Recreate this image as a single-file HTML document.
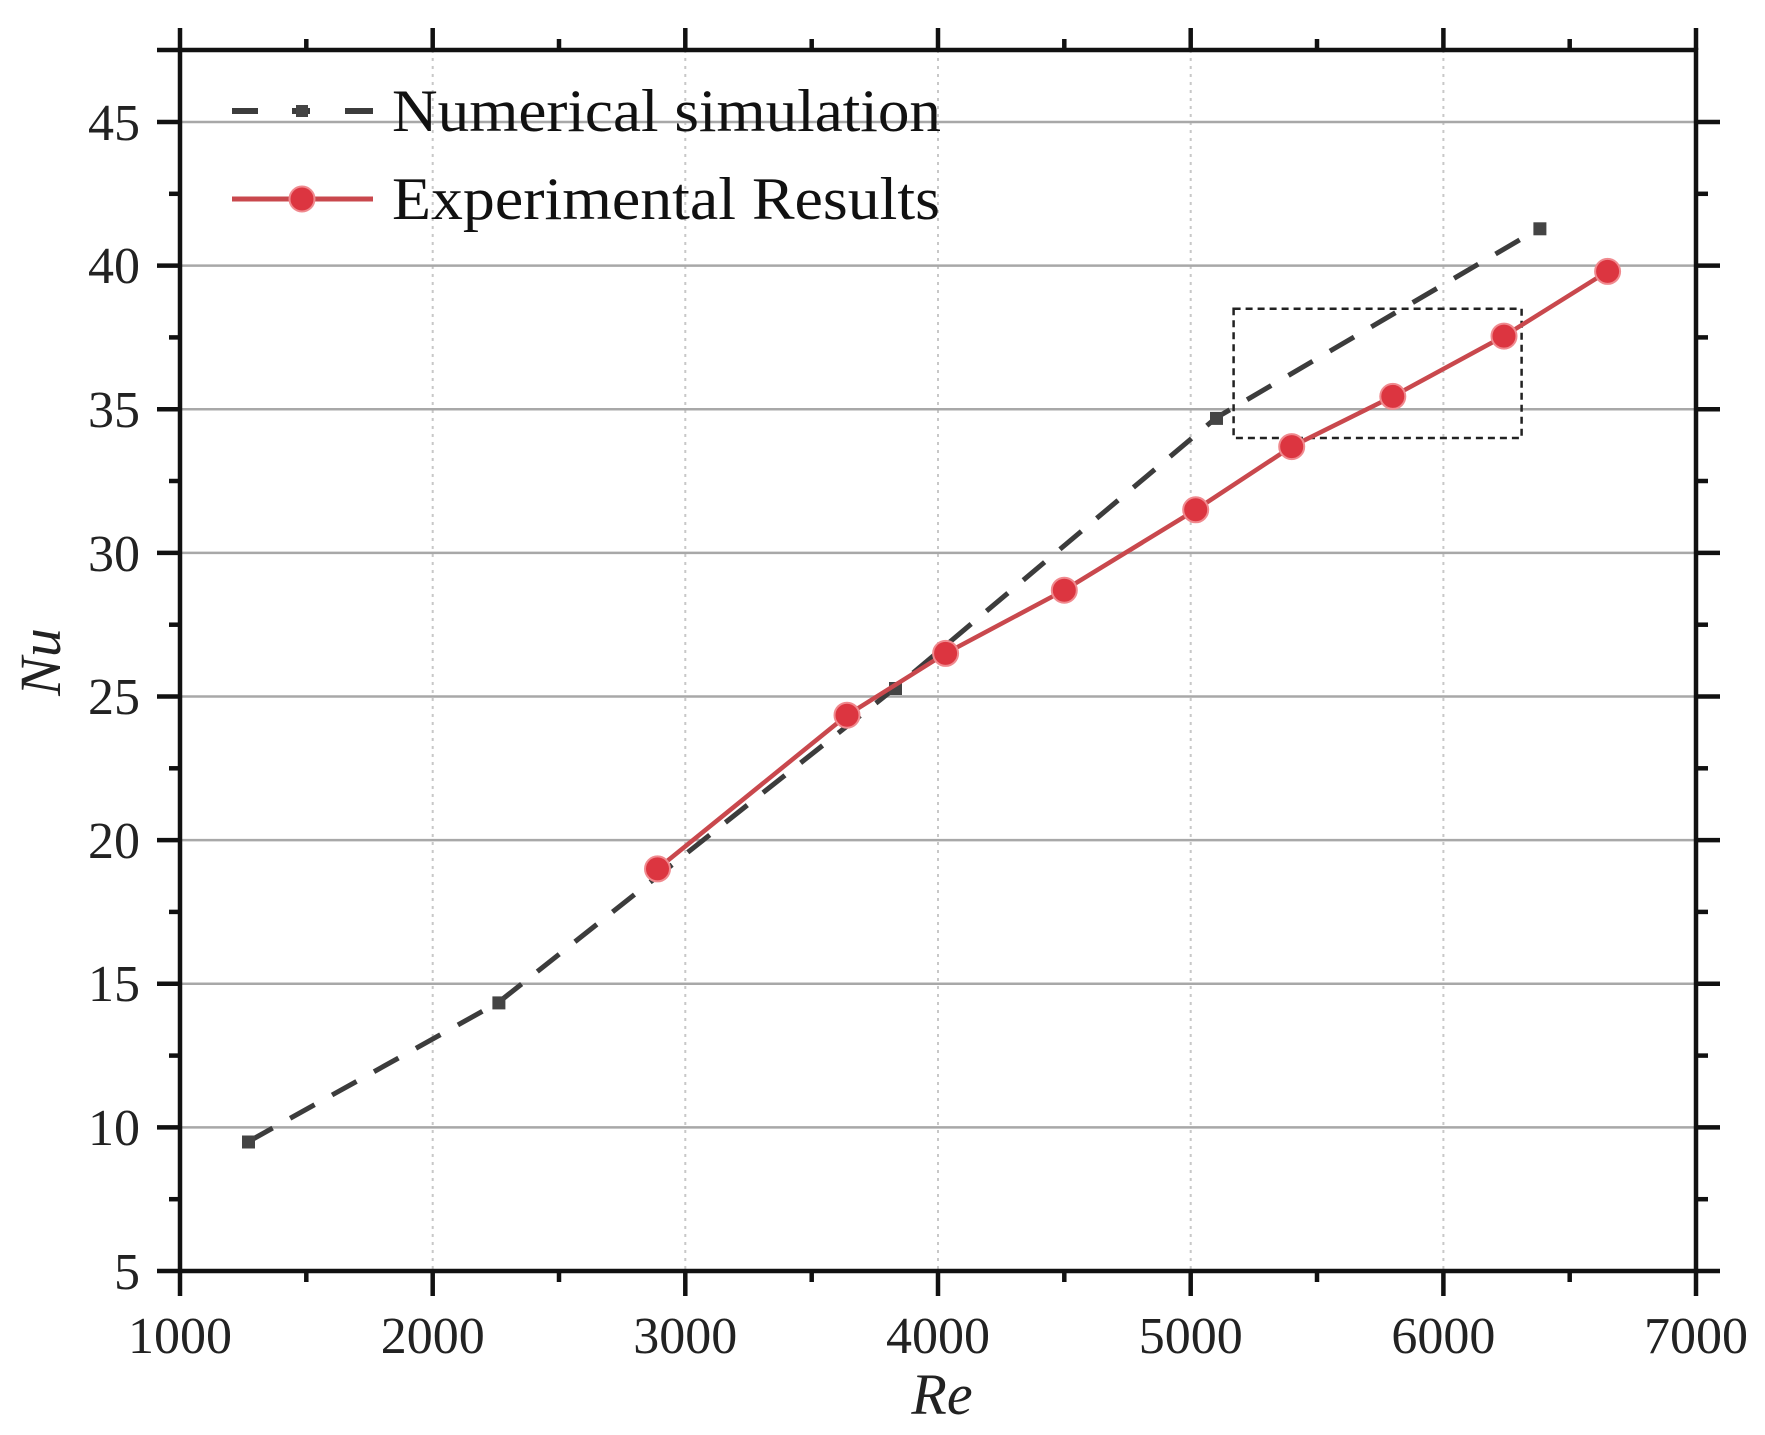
<!DOCTYPE html>
<html><head><meta charset="utf-8"><style>html,body{margin:0;padding:0;background:#fff}svg{display:block}</style></head><body>
<svg width="1765" height="1435" viewBox="0 0 1765 1435" xmlns="http://www.w3.org/2000/svg" font-family="Liberation Serif, serif">
<rect width="1765" height="1435" fill="#fff"/>
<g stroke="#c8c8c8" stroke-width="2" stroke-dasharray="3,5">
<line x1="432.7" y1="50" x2="432.7" y2="1271"/><line x1="685.3" y1="50" x2="685.3" y2="1271"/><line x1="938" y1="50" x2="938" y2="1271"/><line x1="1190.7" y1="50" x2="1190.7" y2="1271"/><line x1="1443.4" y1="50" x2="1443.4" y2="1271"/>
</g>
<g stroke="#a8a8a8" stroke-width="2.5">
<line x1="180" y1="1127.4" x2="1696" y2="1127.4"/><line x1="180" y1="983.7" x2="1696" y2="983.7"/><line x1="180" y1="840.1" x2="1696" y2="840.1"/><line x1="180" y1="696.5" x2="1696" y2="696.5"/><line x1="180" y1="552.9" x2="1696" y2="552.9"/><line x1="180" y1="409.2" x2="1696" y2="409.2"/><line x1="180" y1="265.6" x2="1696" y2="265.6"/><line x1="180" y1="122" x2="1696" y2="122"/>
</g>
<rect x="1233.6" y="308.7" width="288" height="129.3" fill="none" stroke="#222" stroke-width="2.5" stroke-dasharray="7,5"/>
<polyline points="248.2,1141.7 498.4,1002.4 895.1,688 1216,417.9 1539.4,228.3" fill="none" stroke="#3c3c3c" stroke-width="5" stroke-dasharray="28,20"/>
<g fill="#444"><rect x="242" y="1135.5" width="13" height="13"/><rect x="492.4" y="996.4" width="13" height="13"/><rect x="889" y="682" width="13" height="13"/><rect x="1210" y="411.9" width="13" height="13"/><rect x="1533.4" y="222.3" width="13" height="13"/></g>
<polyline points="657.5,868.9 847,715.2 945.6,653.4 1064.3,590.2 1195.7,509.8 1291.7,446.6 1392.8,396.4 1504,336.1 1607.6,271.4" fill="none" stroke="#c9484d" stroke-width="4.5"/>
<g fill="#dc3540" stroke="#f08a8f" stroke-width="2">
<circle cx="657.5" cy="868.9" r="12.5"/><circle cx="847" cy="715.2" r="12.5"/><circle cx="945.6" cy="653.4" r="12.5"/><circle cx="1064.3" cy="590.2" r="12.5"/><circle cx="1195.7" cy="509.8" r="12.5"/><circle cx="1291.7" cy="446.6" r="12.5"/><circle cx="1392.8" cy="396.4" r="12.5"/><circle cx="1504" cy="336.1" r="12.5"/><circle cx="1607.6" cy="271.4" r="12.5"/>
</g>
<rect x="180" y="50" width="1516" height="1221" fill="none" stroke="#111" stroke-width="4.5"/>
<g stroke="#111" stroke-width="4.5">
<line x1="180" y1="1271" x2="180" y2="1296"/><line x1="432.7" y1="1271" x2="432.7" y2="1296"/><line x1="685.3" y1="1271" x2="685.3" y2="1296"/><line x1="938" y1="1271" x2="938" y2="1296"/><line x1="1190.7" y1="1271" x2="1190.7" y2="1296"/><line x1="1443.4" y1="1271" x2="1443.4" y2="1296"/><line x1="1696" y1="1271" x2="1696" y2="1296"/>
<line x1="306.3" y1="1271" x2="306.3" y2="1282"/><line x1="559" y1="1271" x2="559" y2="1282"/><line x1="811.7" y1="1271" x2="811.7" y2="1282"/><line x1="1064.3" y1="1271" x2="1064.3" y2="1282"/><line x1="1317" y1="1271" x2="1317" y2="1282"/><line x1="1569.7" y1="1271" x2="1569.7" y2="1282"/>
<line x1="180" y1="50" x2="180" y2="28"/><line x1="432.7" y1="50" x2="432.7" y2="28"/><line x1="685.3" y1="50" x2="685.3" y2="28"/><line x1="938" y1="50" x2="938" y2="28"/><line x1="1190.7" y1="50" x2="1190.7" y2="28"/><line x1="1443.4" y1="50" x2="1443.4" y2="28"/><line x1="1696" y1="50" x2="1696" y2="28"/>
<line x1="306.3" y1="50" x2="306.3" y2="39"/><line x1="559" y1="50" x2="559" y2="39"/><line x1="811.7" y1="50" x2="811.7" y2="39"/><line x1="1064.3" y1="50" x2="1064.3" y2="39"/><line x1="1317" y1="50" x2="1317" y2="39"/><line x1="1569.7" y1="50" x2="1569.7" y2="39"/>
<line x1="157" y1="1271" x2="180" y2="1271"/><line x1="157" y1="1127.4" x2="180" y2="1127.4"/><line x1="157" y1="983.7" x2="180" y2="983.7"/><line x1="157" y1="840.1" x2="180" y2="840.1"/><line x1="157" y1="696.5" x2="180" y2="696.5"/><line x1="157" y1="552.9" x2="180" y2="552.9"/><line x1="157" y1="409.2" x2="180" y2="409.2"/><line x1="157" y1="265.6" x2="180" y2="265.6"/><line x1="157" y1="122" x2="180" y2="122"/><line x1="157" y1="50" x2="180" y2="50"/>
<line x1="169" y1="1199.2" x2="180" y2="1199.2"/><line x1="169" y1="1055.6" x2="180" y2="1055.6"/><line x1="169" y1="911.9" x2="180" y2="911.9"/><line x1="169" y1="768.3" x2="180" y2="768.3"/><line x1="169" y1="624.7" x2="180" y2="624.7"/><line x1="169" y1="481" x2="180" y2="481"/><line x1="169" y1="337.4" x2="180" y2="337.4"/><line x1="169" y1="193.8" x2="180" y2="193.8"/>
<line x1="1696" y1="1127.4" x2="1720" y2="1127.4"/><line x1="1696" y1="983.7" x2="1720" y2="983.7"/><line x1="1696" y1="840.1" x2="1720" y2="840.1"/><line x1="1696" y1="696.5" x2="1720" y2="696.5"/><line x1="1696" y1="552.9" x2="1720" y2="552.9"/><line x1="1696" y1="409.2" x2="1720" y2="409.2"/><line x1="1696" y1="265.6" x2="1720" y2="265.6"/><line x1="1696" y1="122" x2="1720" y2="122"/><line x1="1696" y1="1271" x2="1720" y2="1271"/>
<line x1="1696" y1="1199.2" x2="1708" y2="1199.2"/><line x1="1696" y1="1055.6" x2="1708" y2="1055.6"/><line x1="1696" y1="911.9" x2="1708" y2="911.9"/><line x1="1696" y1="768.3" x2="1708" y2="768.3"/><line x1="1696" y1="624.7" x2="1708" y2="624.7"/><line x1="1696" y1="481" x2="1708" y2="481"/><line x1="1696" y1="337.4" x2="1708" y2="337.4"/><line x1="1696" y1="193.8" x2="1708" y2="193.8"/>
</g>
<g fill="#222" font-size="52" text-anchor="middle">
<text x="180" y="1353">1000</text><text x="432.7" y="1353">2000</text><text x="685.3" y="1353">3000</text><text x="938" y="1353">4000</text><text x="1190.7" y="1353">5000</text><text x="1443.4" y="1353">6000</text><text x="1696" y="1353">7000</text>
</g>
<g fill="#222" font-size="52" text-anchor="end">
<text x="140" y="1289">5</text><text x="140" y="1145">10</text><text x="140" y="1001">15</text><text x="140" y="858">20</text><text x="140" y="714">25</text><text x="140" y="571">30</text><text x="140" y="427">35</text><text x="140" y="283">40</text><text x="140" y="140">45</text>
</g>
<text x="942" y="1414" font-size="58" font-style="italic" text-anchor="middle" fill="#222">Re</text>
<text transform="translate(60,662) rotate(-90)" font-size="58" font-style="italic" text-anchor="middle" fill="#222">Nu</text>
<g stroke="#3c3c3c" stroke-width="6"><line x1="232" y1="111" x2="258" y2="111"/><line x1="292" y1="111" x2="310" y2="111"/><line x1="345" y1="111" x2="373" y2="111"/></g>
<rect x="296" y="105" width="12" height="12" fill="#444"/>
<line x1="232" y1="199" x2="373" y2="199" stroke="#c9484d" stroke-width="5"/>
<circle cx="302" cy="199" r="12.5" fill="#dc3540" stroke="#f08a8f" stroke-width="2"/>
<g fill="#111" font-size="60"><text x="392" y="131" textLength="549" lengthAdjust="spacingAndGlyphs">Numerical simulation</text><text x="392" y="219" textLength="548" lengthAdjust="spacingAndGlyphs">Experimental Results</text></g>
</svg>
</body></html>
